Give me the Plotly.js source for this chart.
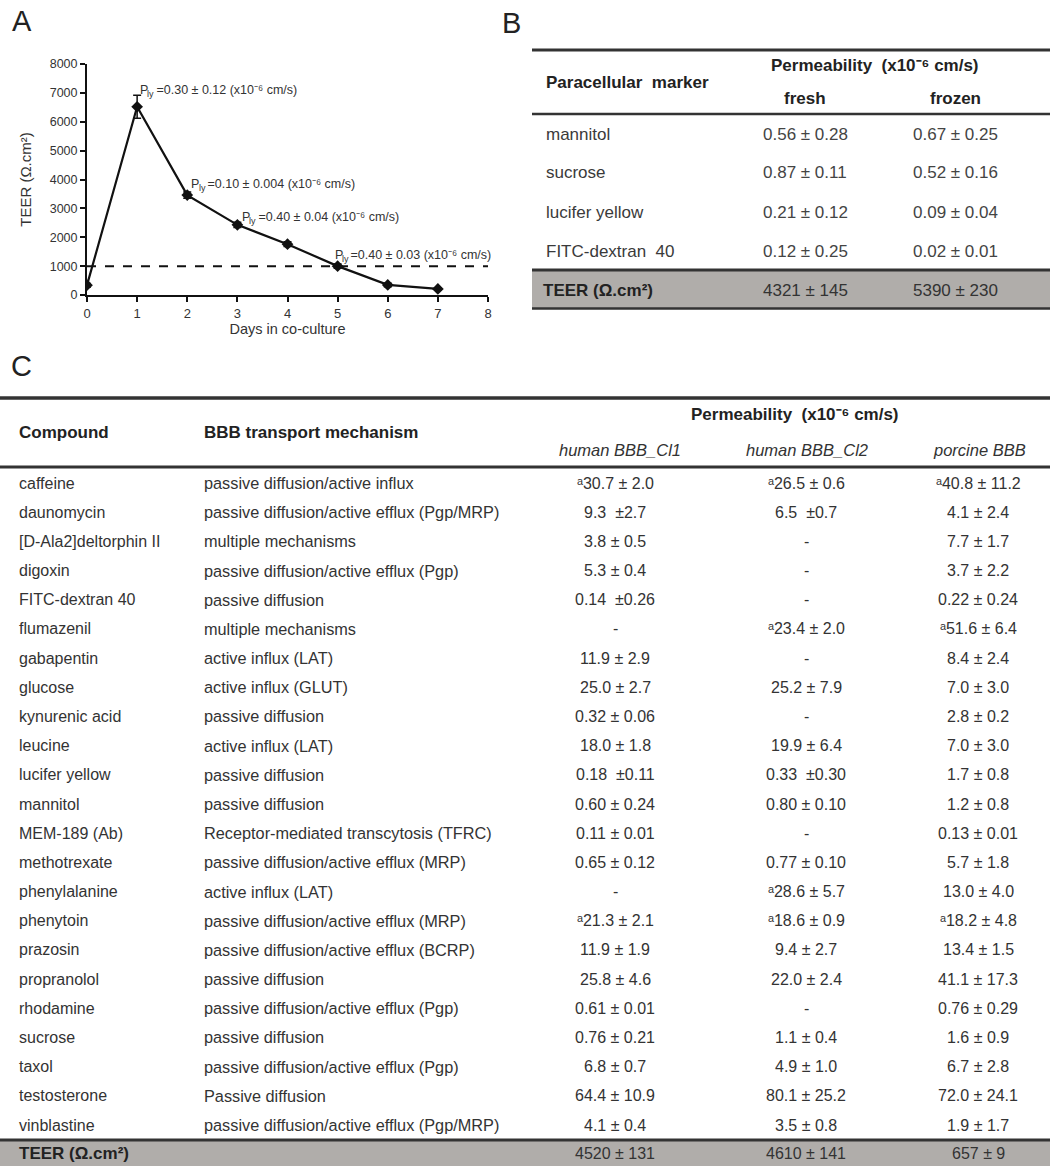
<!DOCTYPE html>
<html>
<head>
<meta charset="utf-8">
<script src="https://cdn.plot.ly/plotly-3.0.1.min.js"></script>
<style>
html,body{margin:0;padding:0;background:#fff;}
#chart{width:1050px;height:1166px;}
</style>
</head>
<body>
<div id="chart"></div>
<script>
// ---------- Panel A data ----------
const days = [0, 1, 2, 3, 4, 5, 6, 7];
const teerValues = [340, 6520, 3460, 2430, 1760, 1000, 350, 210];
const teerErrors = [60, 400, 110, 90, 80, 70, 60, 40];
const teerThreshold = 1000;
const plyDays = [1, 2, 3, 5];
const plyValues = ["0.30 ± 0.12", "0.10 ± 0.004", "0.40 ± 0.04", "0.40 ± 0.03"];
const xTicks = [0, 1, 2, 3, 4, 5, 6, 7, 8];
const yTicks = [0, 1000, 2000, 3000, 4000, 5000, 6000, 7000, 8000];

// ---------- Panel B data ----------
const markersB = ["mannitol", "sucrose", "lucifer yellow", "FITC-dextran  40"];
const freshB = ["0.56 ± 0.28", "0.87 ± 0.11", "0.21 ± 0.12", "0.12 ± 0.25"];
const frozenB = ["0.67 ± 0.25", "0.52 ± 0.16", "0.09 ± 0.04", "0.02 ± 0.01"];
const teerB = ["4321 ± 145", "5390 ± 230"];

// ---------- Panel C data ----------
const compounds = ["caffeine", "daunomycin", "[D-Ala2]deltorphin II", "digoxin", "FITC-dextran 40",
  "flumazenil", "gabapentin", "glucose", "kynurenic acid", "leucine", "lucifer yellow", "mannitol",
  "MEM-189 (Ab)", "methotrexate", "phenylalanine", "phenytoin", "prazosin", "propranolol",
  "rhodamine", "sucrose", "taxol", "testosterone", "vinblastine"];
const mechanisms = ["passive diffusion/active influx", "passive diffusion/active efflux (Pgp/MRP)",
  "multiple mechanisms", "passive diffusion/active efflux (Pgp)", "passive diffusion",
  "multiple mechanisms", "active influx (LAT)", "active influx (GLUT)", "passive diffusion",
  "active influx (LAT)", "passive diffusion", "passive diffusion", "Receptor-mediated transcytosis (TFRC)",
  "passive diffusion/active efflux (MRP)", "active influx (LAT)", "passive diffusion/active efflux (MRP)",
  "passive diffusion/active efflux (BCRP)", "passive diffusion", "passive diffusion/active efflux (Pgp)",
  "passive diffusion", "passive diffusion/active efflux (Pgp)", "Passive diffusion",
  "passive diffusion/active efflux (Pgp/MRP)"];
const humanCl1 = ["^a30.7 ± 2.0", "9.3  ±2.7", "3.8 ± 0.5", "5.3 ± 0.4", "0.14  ±0.26", "-",
  "11.9 ± 2.9", "25.0 ± 2.7", "0.32 ± 0.06", "18.0 ± 1.8", "0.18  ±0.11", "0.60 ± 0.24",
  "0.11 ± 0.01", "0.65 ± 0.12", "-", "^a21.3 ± 2.1", "11.9 ± 1.9", "25.8 ± 4.6", "0.61 ± 0.01",
  "0.76 ± 0.21", "6.8 ± 0.7", "64.4 ± 10.9", "4.1 ± 0.4"];
const humanCl2 = ["^a26.5 ± 0.6", "6.5  ±0.7", "-", "-", "-", "^a23.4 ± 2.0", "-", "25.2 ± 7.9",
  "-", "19.9 ± 6.4", "0.33  ±0.30", "0.80 ± 0.10", "-", "0.77 ± 0.10", "^a28.6 ± 5.7",
  "^a18.6 ± 0.9", "9.4 ± 2.7", "22.0 ± 2.4", "-", "1.1 ± 0.4", "4.9 ± 1.0", "80.1 ± 25.2", "3.5 ± 0.8"];
const porcine = ["^a40.8 ± 11.2", "4.1 ± 2.4", "7.7 ± 1.7", "3.7 ± 2.2", "0.22 ± 0.24", "^a51.6 ± 6.4",
  "8.4 ± 2.4", "7.0 ± 3.0", "2.8 ± 0.2", "7.0 ± 3.0", "1.7 ± 0.8", "1.2 ± 0.8", "0.13 ± 0.01",
  "5.7 ± 1.8", "13.0 ± 4.0", "^a18.2 ± 4.8", "13.4 ± 1.5", "41.1 ± 17.3", "0.76 ± 0.29",
  "1.6 ± 0.9", "6.7 ± 2.8", "72.0 ± 24.1", "1.9 ± 1.7"];
const modelsC = ["human BBB_Cl1", "human BBB_Cl2", "porcine BBB"];
const teerC = ["4520 ± 131", "4610 ± 141", "657 ± 9"];

// ---------- helpers ----------
const W = 1050, H = 1166;
const FONT = "Liberation Sans, Arial, Helvetica, sans-serif";
const px = x => x / W;
const py = y => 1 - y / H;
const fmt = s => s.replace("^a", "ᵃ").replace(/  /g, " \u00a0");
const ctx = document.createElement("canvas").getContext("2d");
function measure(s, size) { ctx.font = size + "px " + FONT; return ctx.measureText(s).width; }

const annotations = [];
const shapes = [];

function text(s, x, y, o) {
  o = o || {};
  annotations.push({
    text: s, x: px(x), y: py(y), xref: "paper", yref: "paper",
    xanchor: o.anchor || "left", yanchor: "middle", showarrow: false,
    font: {family: FONT, size: o.size || 16, color: o.color || "#333",
           weight: o.bold ? "bold" : "normal", style: o.italic ? "italic" : "normal"}
  });
}
function hline(x0, x1, y, w, c) {
  shapes.push({type: "line", xref: "paper", yref: "paper",
    x0: px(x0), x1: px(x1), y0: py(y), y1: py(y), line: {color: c || "#333", width: w}});
}
function band(x0, x1, y0, y1, c) {
  shapes.push({type: "rect", xref: "paper", yref: "paper", layer: "below",
    x0: px(x0), x1: px(x1), y0: py(y1), y1: py(y0), fillcolor: c, line: {width: 0}});
}

// ---------- panel letters ----------
text("A", 10, 21, {size: 29, color: "#222"});
text("B", 500, 23, {size: 29, color: "#222"});
text("C", 9, 366, {size: 29, color: "#222"});

// ---------- Panel A annotations (P with subscript "ly") ----------
const plyOffsets = [[0.02, 7100], [0.04, 3850], [0.05, 2700], [-0.1, 1370]];
const aSize = 12.5, subSize = 9;
const wP = measure("P", aSize), wSub = measure("ly", subSize);
plyDays.forEach((d, i) => {
  const base = {x: plyDays[i] + plyOffsets[i][0], y: plyOffsets[i][1], xref: "x", yref: "y",
    xanchor: "left", yanchor: "middle", showarrow: false};
  annotations.push(Object.assign({}, base, {text: "P", font: {family: FONT, size: aSize, color: "#333"}}));
  annotations.push(Object.assign({}, base, {text: "ly", xshift: wP - 1, yshift: -4,
    font: {family: FONT, size: subSize, color: "#333"}}));
  annotations.push(Object.assign({}, base, {text: " =" + plyValues[i] + " (x10⁻⁶ cm/s)",
    xshift: wP + wSub - 2, font: {family: FONT, size: aSize, color: "#333"}}));
});
shapes.push({type: "line", xref: "x", yref: "y", x0: 0, x1: 8, y0: teerThreshold, y1: teerThreshold,
  line: {color: "#111", width: 2, dash: "dash"}});

// ---------- Panel B table ----------
const bLeft = 532, bFresh = 805, bFrozen = 955;
hline(bLeft, W, 50, 3);
hline(bLeft, W, 114, 2.5);
text("Paracellular  marker", 544, 82, {bold: true, size: 17, color: "#222"});
text("Permeability  (x10⁻⁶ cm/s)", 875, 66, {bold: true, size: 17, color: "#222", anchor: "center"});
text("fresh", bFresh, 98, {bold: true, size: 17, color: "#222", anchor: "center"});
text("frozen", bFrozen, 98, {bold: true, size: 17, color: "#222", anchor: "center"});
const bRowY = [135, 173, 212, 251];
markersB.forEach((m, i) => {
  text(m, 544, bRowY[i], {size: 17, color: "#3a3a3a"});
  text(freshB[i], bFresh, bRowY[i], {size: 17, color: "#444", anchor: "center"});
  text(frozenB[i], bFrozen, bRowY[i], {size: 17, color: "#444", anchor: "center"});
});
band(bLeft, W, 270, 308, "#b0adaa");
hline(bLeft, W, 270, 3);
hline(bLeft, W, 308.5, 2.5);
text("TEER (Ω.cm²)", 541, 290, {bold: true, size: 17, color: "#222"});
text(teerB[0], bFresh, 290, {size: 17, color: "#333", anchor: "center"});
text(teerB[1], bFrozen, 290, {size: 17, color: "#333", anchor: "center"});

// ---------- Panel C table ----------
const cCompX = 17, cMechX = 202, cValX = [615, 806, 978], cHeadX = [620, 807, 979];
hline(0, W, 398, 3.5);
hline(0, W, 467, 3);
text("Permeability  (x10⁻⁶ cm/s)", 795, 415, {bold: true, size: 17, color: "#222", anchor: "center"});
text("Compound", cCompX, 432, {bold: true, size: 17, color: "#222"});
text("BBB transport mechanism", cMechX, 432, {bold: true, size: 17, color: "#222"});
modelsC.forEach((m, j) => text(m, cHeadX[j], 450, {italic: true, size: 16.5, color: "#333", anchor: "center"}));
const row0 = 483, rowStep = (1125 - 483) / 22;
const valueCols = [humanCl1, humanCl2, porcine];
compounds.forEach((c, i) => {
  const y = row0 + i * rowStep;
  text(c, cCompX, y, {size: 16});
  text(mechanisms[i], cMechX, y, {size: 16.3});
  valueCols.forEach((col, j) => text(fmt(col[i]), cValX[j], y, {size: 16, anchor: "center"}));
});
band(0, W, 1140, H, "#b0adaa");
hline(0, W, 1140, 3);
text("TEER (Ω.cm²)", cCompX, 1153, {bold: true, size: 17, color: "#222"});
teerC.forEach((v, j) => text(v, cValX[j], 1153, {size: 16, color: "#333", anchor: "center"}));

// ---------- Panel A trace ----------
const trace = {
  x: days, y: teerValues, type: "scatter", mode: "lines+markers",
  line: {color: "#111", width: 2.2},
  marker: {symbol: "diamond", size: 9, color: "#111"},
  error_y: {type: "data", array: teerErrors, visible: true, color: "#111", thickness: 1.5, width: 4},
  showlegend: false, hoverinfo: "x+y"
};

const layout = {
  width: W, height: H,
  margin: {l: 0, r: 0, t: 0, b: 0},
  paper_bgcolor: "#fff", plot_bgcolor: "rgba(0,0,0,0)",
  font: {family: FONT, color: "#333"},
  showlegend: false,
  xaxis: {
    domain: [px(87), px(488)], range: [0, 8], tickvals: xTicks, ticktext: xTicks.map(String),
    showgrid: false, zeroline: false, showline: true, linecolor: "#111", linewidth: 2,
    ticks: "outside", ticklen: 5, tickwidth: 2, tickcolor: "#111",
    tickfont: {family: FONT, size: 13, color: "#333"},
    title: {text: "Days in co-culture", font: {family: FONT, size: 14.5, color: "#333"}, standoff: 4},
    automargin: false, fixedrange: true
  },
  yaxis: {
    domain: [py(295), py(64)], range: [0, 8000], tickvals: yTicks, ticktext: yTicks.map(String),
    showgrid: false, zeroline: false, showline: true, linecolor: "#111", linewidth: 2,
    ticks: "outside", ticklen: 5, tickwidth: 2, tickcolor: "#111",
    tickfont: {family: FONT, size: 12.5, color: "#333"},
    title: {text: "TEER (Ω.cm²)", font: {family: FONT, size: 15, color: "#333"}, standoff: 14},
    automargin: false, fixedrange: true
  },
  annotations: annotations,
  shapes: shapes
};

Plotly.newPlot("chart", [trace], layout, {displayModeBar: false, staticPlot: true});
</script>
</body>
</html>
